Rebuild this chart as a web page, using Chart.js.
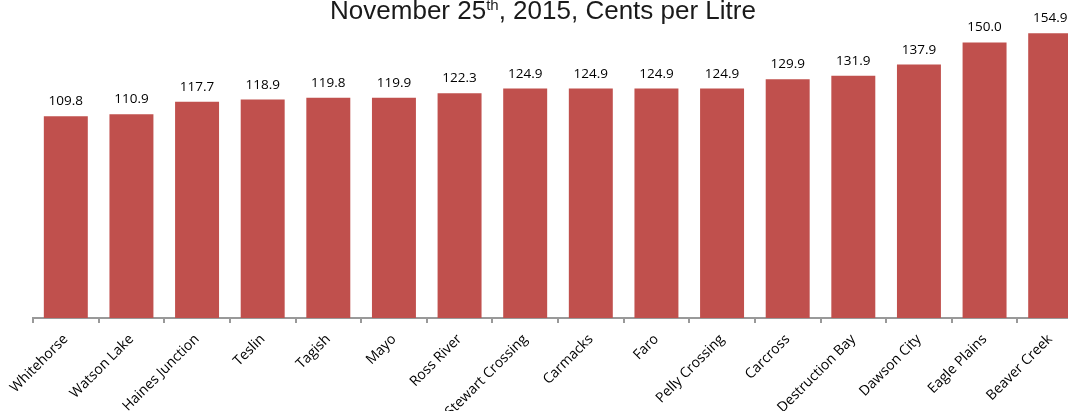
<!DOCTYPE html>
<html>
<head>
<meta charset="utf-8">
<script src="https://cdn.jsdelivr.net/npm/chart.js@4.4.1/dist/chart.umd.min.js"></script>
<style>
  html, body { margin: 0; padding: 0; background: #fff; overflow: hidden; }
  #wrap { width: 1090px; height: 411px; }
</style>
</head>
<body>
<div id="wrap"><canvas id="fuelChart"></canvas></div>
<script>
// Community names and prices (cents per litre)
const communities = ['Whitehorse', 'Watson Lake', 'Haines Junction', 'Teslin', 'Tagish', 'Mayo',
  'Ross River', 'Stewart Crossing', 'Carmacks', 'Faro', 'Pelly Crossing', 'Carcross',
  'Destruction Bay', 'Dawson City', 'Eagle Plains', 'Beaver Creek'];
const prices = [109.8, 110.9, 117.7, 118.9, 119.8, 119.9, 122.3, 124.9, 124.9, 124.9, 124.9,
  129.9, 131.9, 137.9, 150.0, 154.9];

// title with superscript "th", cut at the top like the original
const titlePlugin = {
  id: 'supTitle',
  afterDraw(chart) {
    const ctx = chart.ctx;
    ctx.save();
    ctx.fillStyle = '#1a1a1a';
    ctx.textBaseline = 'alphabetic';
    const big = '26px "Liberation Sans", Arial, sans-serif';
    const small = '15px "Liberation Sans", Arial, sans-serif';
    const p1 = 'November 25', p2 = 'th', p3 = ', 2015, Cents per Litre';
    ctx.font = big;
    const w1 = ctx.measureText(p1).width, w3 = ctx.measureText(p3).width;
    ctx.font = small;
    const w2 = ctx.measureText(p2).width;
    let x = 543 - (w1 + w2 + w3) / 2;
    const y = 19;
    ctx.font = big; ctx.fillText(p1, x, y); x += w1;
    ctx.font = small; ctx.fillText(p2, x, y - 9); x += w2;
    ctx.font = big; ctx.fillText(p3, x, y);
    ctx.restore();
  }
};

// value labels above the bars
const valuePlugin = {
  id: 'values',
  afterDatasetsDraw(chart) {
    const ctx = chart.ctx;
    const meta = chart.getDatasetMeta(0);
    ctx.save();
    ctx.font = '13.5px "Open Sans", sans-serif';
    ctx.fillStyle = '#000';
    ctx.textAlign = 'center';
    ctx.textBaseline = 'bottom';
    meta.data.forEach((bar, i) => {
      ctx.fillText(prices[i].toFixed(1), bar.x, bar.y - 8);
    });
    ctx.restore();
  }
};

new Chart(document.getElementById('fuelChart'), {
  type: 'bar',
  data: {
    labels: communities,
    datasets: [{
      data: prices,
      backgroundColor: '#C0504D',
      barPercentage: 0.67,
      categoryPercentage: 1.0
    }]
  },
  options: {
    responsive: true,
    maintainAspectRatio: false,
    animation: false,
    layout: { padding: { left: 33, right: 7, top: 24, bottom: 0 } },
    plugins: { legend: { display: false }, tooltip: { enabled: false } },
    scales: {
      y: { display: false, min: 0, max: 160 },
      x: {
        afterFit(scale) { scale.height = 93; },
        border: { color: '#999', width: 2 },
        grid: { offset: true, drawOnChartArea: false, tickLength: 5, color: '#999', lineWidth: 2 },
        ticks: {
          minRotation: 45, maxRotation: 45, autoSkip: false,
          padding: 8,
          color: '#000',
          font: { family: '"Open Sans", sans-serif', size: 14 }
        }
      }
    }
  },
  plugins: [titlePlugin, valuePlugin]
});
</script>
</body>
</html>
